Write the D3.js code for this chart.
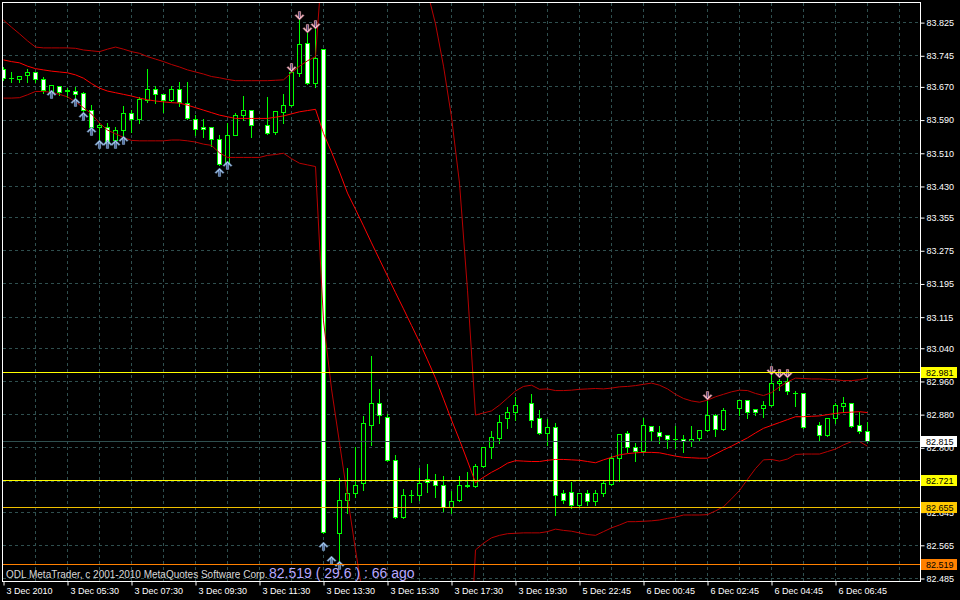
<!DOCTYPE html>
<html><head><meta charset="utf-8">
<script src="https://cdn.jsdelivr.net/npm/d3@7"></script>
<style>html,body{margin:0;padding:0;background:#000;}svg{display:block}</style>
</head><body>
<svg id="c" width="960" height="600"></svg>
<script>
// ---------- DATA ----------
const timeLabels = ["3 Dec 2010","3 Dec 05:30","3 Dec 07:30","3 Dec 09:30","3 Dec 11:30","3 Dec 13:30","3 Dec 15:30","3 Dec 17:30","3 Dec 19:30","5 Dec 22:45","6 Dec 00:45","6 Dec 02:45","6 Dec 04:45","6 Dec 06:45"];
const timeLabelSlots = [0,8,16,24,32,40,48,56,64,72,80,88,96,104];
const priceTicks = [83.825,83.745,83.670,83.590,83.510,83.430,83.355,83.275,83.195,83.115,83.040,82.960,82.880,82.800,82.720,82.645,82.565,82.485];

const openP = [83.712,83.691,83.688,83.697,83.704,83.687,83.656,83.672,83.658,83.660,
83.655,83.612,83.573,83.573,83.542,83.564,83.606,83.592,83.637,83.663,
83.652,83.637,83.664,83.629,83.592,83.573,83.573,83.544,83.486,83.554,
83.602,83.613,null,83.577,83.560,83.608,83.624,83.703,83.775,83.679,
83.761,null,82.594,82.673,82.690,82.715,82.853,82.907,82.874,82.769,
82.632,82.686,82.685,82.724,82.721,82.710,82.656,82.673,82.706,82.706,
82.755,82.801,82.822,82.871,82.885,null,82.906,82.871,82.835,82.849,
82.689,82.692,82.662,82.689,82.670,82.690,82.712,82.774,82.835,82.801,
82.791,82.851,82.837,82.829,82.821,82.821,82.815,82.823,82.841,82.877,
82.845,null,82.895,82.913,82.893,82.895,82.903,82.955,82.961,82.931,
82.931,null,82.853,82.829,82.871,82.899,82.907,82.853,82.840];
const highP = [83.718,83.707,83.697,83.713,83.705,83.693,83.675,83.673,83.667,83.669,
83.658,83.626,83.583,83.582,83.574,83.624,83.614,83.645,83.713,83.672,
83.653,83.672,83.683,83.683,83.602,83.592,83.574,83.554,83.584,83.606,
83.648,83.614,null,83.645,83.613,83.653,83.706,83.831,83.800,83.811,
83.762,null,82.727,82.751,82.803,82.877,83.021,82.941,82.882,82.783,
82.700,82.698,82.751,82.761,82.736,82.732,82.695,82.732,82.741,82.761,
82.802,82.841,82.879,82.899,82.922,null,82.930,82.891,82.870,82.859,
82.698,82.718,82.690,82.698,82.698,82.722,82.780,82.832,82.841,82.811,
82.871,82.853,82.853,82.831,82.853,82.831,82.853,82.843,82.914,82.881,
82.895,null,82.914,82.914,82.894,82.913,82.981,82.967,82.968,82.937,
82.932,null,82.863,82.872,82.907,82.923,82.908,82.887,82.863];
const lowP = [83.687,83.683,83.683,83.683,83.683,83.656,83.655,83.651,83.645,83.643,
83.612,83.571,83.542,83.533,83.534,83.554,83.562,83.584,83.634,83.632,
83.610,83.636,83.624,83.593,83.554,83.550,83.528,83.482,83.478,83.553,
83.590,83.550,null,83.557,83.557,83.584,83.623,83.696,83.678,83.669,
82.595,null,82.519,82.642,82.682,82.698,82.807,82.861,82.768,82.630,
82.631,82.670,82.674,82.694,82.682,82.648,82.642,82.671,82.705,82.705,
82.754,82.775,82.812,82.847,82.867,null,82.851,82.834,82.807,82.638,
82.667,82.654,82.657,82.662,82.662,82.684,82.711,82.721,82.791,82.769,
82.790,82.819,82.811,82.799,82.799,82.791,82.805,82.819,82.840,82.829,
82.843,null,82.879,82.871,82.879,82.874,82.902,82.939,82.929,82.901,
82.848,null,82.819,82.828,82.859,82.887,82.850,82.835,82.813];
const closeP = [83.691,83.691,83.696,83.704,83.688,83.661,83.674,83.656,83.661,83.652,
83.613,83.573,83.578,83.534,83.566,83.606,83.592,83.639,83.663,83.651,
83.637,83.664,83.632,83.594,83.568,83.568,83.544,83.484,83.554,83.602,
83.614,83.578,null,83.558,83.610,83.626,83.704,83.773,83.679,83.739,
82.596,null,82.673,82.690,82.710,82.859,82.906,82.879,82.769,82.632,
82.686,82.686,82.714,82.716,82.710,82.656,82.671,82.710,82.710,82.756,
82.801,82.825,82.861,82.886,82.901,null,82.867,82.835,82.849,82.686,
82.673,82.660,82.689,82.670,82.690,82.714,82.774,82.831,82.801,82.791,
82.853,82.839,82.827,82.821,82.821,82.815,82.821,82.841,82.877,82.845,
82.891,null,82.913,82.885,82.886,82.903,82.955,82.961,82.935,82.931,
82.849,null,82.829,82.871,82.901,82.906,82.851,82.839,82.815];

const bbUpper = [83.831,83.814,83.798,83.781,83.766,83.764,83.764,83.764,83.764,83.763,
83.759,83.757,83.755,83.761,83.766,83.761,83.755,83.751,83.743,83.737,
83.731,83.724,83.718,83.711,83.706,83.701,83.695,83.692,83.688,83.685,
83.685,83.685,83.685,83.685,83.686,83.687,83.704,83.720,83.733,83.743,
84.010,84.116,84.176,84.207,84.224,84.222,84.212,84.191,84.157,84.116,
84.063,84.005,83.952,83.899,83.822,83.720,83.597,83.438,83.180,82.879,
82.884,82.889,82.903,82.920,82.937,82.948,82.951,82.941,82.942,82.938,
82.938,82.939,82.941,82.942,82.943,82.942,82.944,82.947,82.948,82.950,
82.953,82.956,82.951,82.942,82.929,82.919,82.913,82.910,82.915,82.923,
82.929,82.935,82.939,82.938,82.931,82.926,82.933,82.947,82.959,82.968,
82.967,82.966,82.966,82.965,82.964,82.962,82.962,82.964,82.968];
const bbMiddle = [83.735,83.731,83.728,83.720,83.714,83.711,83.708,83.706,83.704,83.699,
83.691,83.678,83.667,83.660,83.656,83.652,83.648,83.643,83.639,83.636,
83.634,83.632,83.631,83.626,83.620,83.614,83.608,83.602,83.598,83.594,
83.594,83.594,83.594,83.594,83.597,83.600,83.605,83.610,83.613,83.616,
83.558,83.513,83.465,83.414,83.375,83.335,83.294,83.254,83.214,83.174,
83.135,83.095,83.055,83.012,82.968,82.918,82.867,82.819,82.768,82.716,
82.729,82.741,82.751,82.763,82.769,82.768,82.767,82.767,82.770,82.772,
82.772,82.771,82.770,82.767,82.764,82.771,82.777,82.783,82.786,82.788,
82.789,82.789,82.788,82.784,82.780,82.777,82.776,82.775,82.775,82.785,
82.795,82.804,82.814,82.824,82.836,82.847,82.854,82.861,82.868,82.875,
82.875,82.876,82.877,82.880,82.883,82.885,82.886,82.887,82.885];
const bbLower = [83.643,83.643,83.644,83.651,83.659,83.659,83.657,83.652,83.646,83.634,
83.620,83.605,83.583,83.566,83.557,83.548,83.541,83.540,83.540,83.540,
83.540,83.542,83.542,83.540,83.537,83.532,83.529,83.511,83.500,83.500,
83.500,83.500,83.500,83.505,83.507,83.510,83.497,83.486,83.482,83.478,
83.106,82.942,82.812,82.682,82.554,82.433,82.337,82.265,82.216,82.180,
82.156,82.144,82.144,82.149,82.156,82.163,82.168,82.173,82.180,82.554,
82.570,82.583,82.589,82.593,82.594,82.595,82.595,82.595,82.598,82.604,
82.601,82.599,82.595,82.591,82.589,82.598,82.607,82.614,82.622,82.622,
82.623,82.624,82.626,82.630,82.633,82.638,82.638,82.638,82.639,82.648,
82.658,82.677,82.697,82.724,82.750,82.771,82.772,82.768,82.773,82.784,
82.785,82.785,82.785,82.791,82.797,82.807,82.815,82.815,82.804];

const upArrowSlots  = [6,9,10,11,12,13,14,15,27,28,40,41,42];
const upArrowPrices = [83.663,83.643,83.610,83.573,83.542,83.542,83.542,83.552,83.474,83.492,82.574,82.539,82.526];
const downArrowSlots  = [36,37,38,39,88,96,97,98];
const downArrowPrices = [83.706,83.831,83.800,83.810,82.915,82.976,82.968,82.968];

const levelPrices = [82.981,82.815,82.721,82.655,82.519];
const levelLabels = ["82.981","82.815","82.721","82.655","82.519"];
const copyrightText = "ODL MetaTrader, c 2001-2010 MetaQuotes Software Corp.";
const infoText = "82.519 ( 29.6 ) : 66 ago";

// ---------- STYLE ----------
const levelLine = ["#ffff00","#2f4f4f","#ffff00","#f0c000","#ff8000"];
const levelBox  = ["#ffff00","#ffffff","#ffff00","#ffc800","#ff8000"];
const FONT = "'Liberation Sans', Arial, sans-serif";
const GRID = "#2f4f4f";
const LIME = "#00ff00";

const svg = d3.select("#c");
svg.append("rect").attr("width",960).attr("height",600).attr("fill","#000");

const x = d3.scaleLinear().domain([0,108]).range([3.5,867.5]);
const y = d3.scaleLinear().domain([82.485,83.825]).range([578.5,22.6]);
const crisp = v => Math.floor(v)+0.5;

svg.append("defs").append("clipPath").attr("id","plot")
  .append("rect").attr("x",3).attr("y",3).attr("width",917).attr("height",578);

// grid
const grid = svg.append("g").attr("stroke",GRID).attr("stroke-dasharray","3,3").attr("stroke-width",1);
grid.selectAll("line.h").data(priceTicks).join("line").attr("class","h")
  .attr("x1",3).attr("x2",920).attr("y1",d=>crisp(y(d))).attr("y2",d=>crisp(y(d)));
grid.selectAll("line.v").data(d3.range(1,29)).join("line").attr("class","v")
  .attr("x1",d=>x(d*4)).attr("x2",d=>x(d*4)).attr("y1",3).attr("y2",581);

const plotG = svg.append("g").attr("clip-path","url(#plot)");

// candles
const idx = d3.range(openP.length).filter(i => openP[i] !== null);
const cg = plotG.append("g");
cg.selectAll("line.wick").data(idx).join("line").attr("class","wick")
  .attr("x1",i=>x(i)).attr("x2",i=>x(i))
  .attr("y1",i=>Math.round(y(highP[i]))).attr("y2",i=>Math.round(y(lowP[i]))+1)
  .attr("stroke",LIME).attr("stroke-width",1);
idx.forEach(i => {
  const o = openP[i], c = closeP[i];
  const top = crisp(y(Math.max(o,c))), bot = crisp(y(Math.min(o,c)));
  if (bot - top < 1) {
    cg.append("line").attr("x1",x(i)-2.5).attr("x2",x(i)+2.5).attr("y1",top).attr("y2",top)
      .attr("stroke",LIME).attr("stroke-width",1);
  } else {
    cg.append("rect").attr("x",x(i)-2).attr("width",4).attr("y",top).attr("height",bot-top)
      .attr("fill", c > o ? "#000" : "#fff").attr("stroke",LIME).attr("stroke-width",1);
  }
});

// bollinger bands
const line = d3.line().x((d,i)=>x(i)).y(d=>y(d));
plotG.append("path").attr("d",line(bbUpper)).attr("fill","none").attr("stroke","#b80000").attr("stroke-width",1);
plotG.append("path").attr("d",line(bbLower)).attr("fill","none").attr("stroke","#b80000").attr("stroke-width",1);
plotG.append("path").attr("d",line(bbMiddle)).attr("fill","none").attr("stroke","#ff0000").attr("stroke-width",1);

// arrows
const upPath = "M0,0 L4.5,4.5 L3.5,5.5 L1.2,3.3 L1.2,8.5 L-1.2,8.5 L-1.2,3.3 L-3.5,5.5 L-4.5,4.5 Z";
const downPath = "M0,0 L4.5,-4.5 L3.5,-5.5 L1.2,-3.3 L1.2,-8.5 L-1.2,-8.5 L-1.2,-3.3 L-3.5,-5.5 L-4.5,-4.5 Z";
const ag = plotG.append("g");
upArrowSlots.forEach((s,j) => {
  const g = ag.append("g").attr("transform",`translate(${x(s)},${Math.round(y(upArrowPrices[j]))})`);
  g.append("path").attr("d",upPath).attr("fill","#a8ccf0").attr("stroke","#6080b0").attr("stroke-width",0.5);
  g.append("line").attr("x1",0).attr("x2",0).attr("y1",2).attr("y2",8).attr("stroke","#405890").attr("stroke-width",0.8);
});
downArrowSlots.forEach((s,j) => {
  const g = ag.append("g").attr("transform",`translate(${x(s)},${Math.round(y(downArrowPrices[j]))})`);
  g.append("path").attr("d",downPath).attr("fill","#ffc0cb").attr("stroke","#c08090").attr("stroke-width",0.5);
  g.append("line").attr("x1",0).attr("x2",0).attr("y1",-2).attr("y2",-8).attr("stroke","#303070").attr("stroke-width",0.8);
});

// level lines
levelPrices.forEach((p,j) => {
  svg.append("line").attr("x1",3).attr("x2",920).attr("y1",crisp(y(p))).attr("y2",crisp(y(p)))
    .attr("stroke",levelLine[j]).attr("stroke-width",1);
});

// frame
svg.append("rect").attr("x",2.5).attr("y",2.5).attr("width",918).attr("height",579)
  .attr("fill","none").attr("stroke","#fff").attr("stroke-width",1);

// y axis
const yAxis = d3.axisRight(y).tickValues(priceTicks).tickFormat(d3.format(".3f")).tickSize(4).tickPadding(2);
const yg = svg.append("g").attr("transform","translate(920.5,0)").call(yAxis);
yg.select(".domain").remove();
yg.selectAll(".tick line").attr("stroke","#fff");
yg.selectAll(".tick text").attr("fill","#fff").style("font-family",FONT).style("font-size","9px");

// level labels
levelPrices.forEach((p,j) => {
  const yy = crisp(y(p));
  svg.append("rect").attr("x",921).attr("y",yy-5.5).attr("width",36).attr("height",11).attr("fill",levelBox[j]);
  svg.append("text").attr("x",926).attr("y",yy).attr("dy","0.35em").attr("fill","#000")
    .style("font-family",FONT).style("font-size","9px").text(levelLabels[j]);
});

// x axis
const xAxis = d3.axisBottom(x).tickValues(timeLabelSlots).tickFormat((d,i)=>timeLabels[i]).tickSize(4);
const xg = svg.append("g").attr("transform","translate(0,581.5)").call(xAxis);
xg.select(".domain").remove();
xg.selectAll(".tick line").attr("stroke","#fff");
xg.selectAll(".tick text").attr("fill","#fff").attr("text-anchor","start").attr("x",2.5).attr("y",12.5).attr("dy",0)
  .style("font-family",FONT).style("font-size","9px");

// texts
svg.append("text").attr("x",6).attr("y",577.5).attr("fill","#d8d8d8")
  .style("font-family",FONT).style("font-size","10px").text(copyrightText);
svg.append("text").attr("x",269).attr("y",578).attr("fill","#b8a8ff")
  .style("font-family",FONT).style("font-size","14px").text(infoText);
</script>
</body></html>
